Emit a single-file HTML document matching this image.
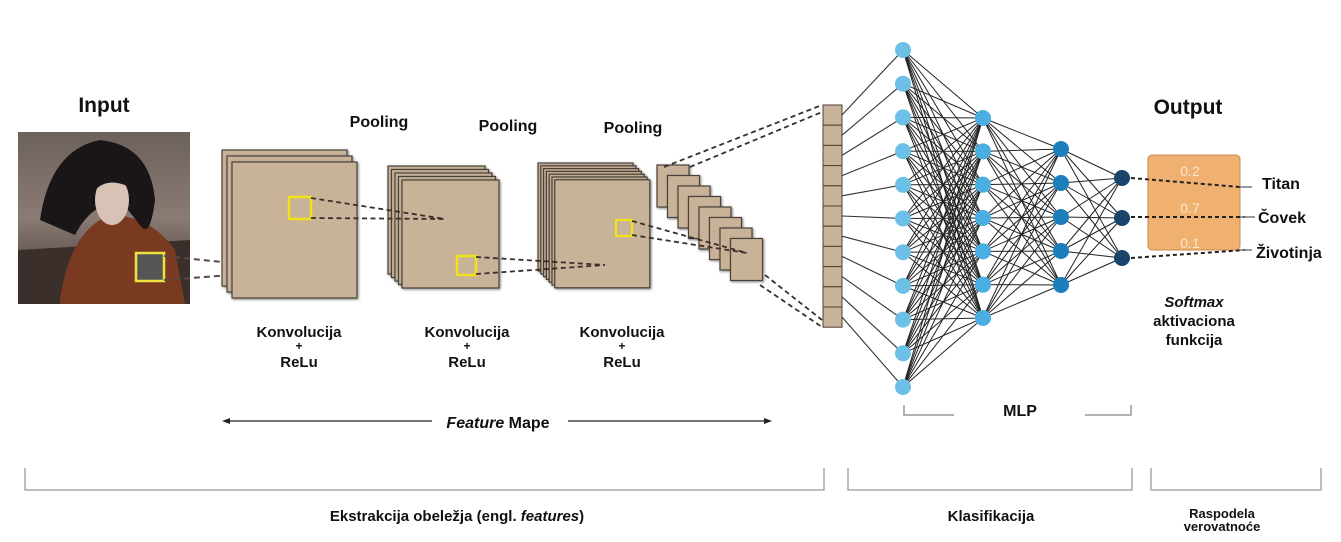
<!DOCTYPE html>
<html><head><meta charset="utf-8"><style>
html,body{margin:0;padding:0;background:#fff;}
svg{display:block;font-family:"Liberation Sans",sans-serif;}
.t{font-weight:bold;fill:#111;}
</style></head><body>
<svg id="s" width="1341" height="542" viewBox="0 0 1341 542" xmlns="http://www.w3.org/2000/svg">
<defs>
<linearGradient id="sky" x1="0" y1="0" x2="0" y2="1">
<stop offset="0" stop-color="#6d615c"/><stop offset="0.5" stop-color="#8a7b74"/><stop offset="1" stop-color="#3a2e2a"/></linearGradient>
<filter id="sh" x="-10%" y="-10%" width="130%" height="130%"><feDropShadow dx="1" dy="1" stdDeviation="1.2" flood-color="#000" flood-opacity="0.5"/></filter>
</defs>
<text x="104" y="112" class="t" font-size="21" text-anchor="middle">Input</text>
<rect x="18" y="132" width="172" height="172" fill="url(#sky)"/>
<path d="M18 250 L190 240 L190 304 L18 304Z" fill="#3a2f2b"/>
<path d="M60 300 Q70 230 110 215 Q150 215 175 250 L185 304 L60 304Z" fill="#7a3a22"/>
<path d="M40 220 Q50 150 100 140 Q150 145 155 200 Q150 240 140 225 L120 200 Q90 205 75 235Z" fill="#1a1517"/>
<ellipse cx="112" cy="200" rx="17" ry="25" fill="#d8c2b6"/>
<path d="M88 165 Q110 150 140 175 L135 190 Q110 175 95 190Z" fill="#1a1517"/>
<rect x="136" y="253" width="28" height="28" fill="#555" stroke="#f0e040" stroke-width="2.5"/>
<line x1="164" y1="256" x2="299" y2="270" stroke="#5a4a44" stroke-width="2" stroke-dasharray="6,4"/>
<line x1="164" y1="280" x2="299" y2="270" stroke="#5a4a44" stroke-width="2" stroke-dasharray="6,4"/>
<g id="maps"></g>
<text x="379" y="127" class="t" font-size="16" text-anchor="middle">Pooling</text>
<text x="508" y="131" class="t" font-size="16" text-anchor="middle">Pooling</text>
<text x="633" y="133" class="t" font-size="16" text-anchor="middle">Pooling</text>
<g class="t" font-size="15" text-anchor="middle">
<text x="299" y="337">Konvolucija</text><text x="299" y="350" font-size="12">+</text><text x="299" y="367">ReLu</text>
<text x="467" y="337">Konvolucija</text><text x="467" y="350" font-size="12">+</text><text x="467" y="367">ReLu</text>
<text x="622" y="337">Konvolucija</text><text x="622" y="350" font-size="12">+</text><text x="622" y="367">ReLu</text>
</g>
<line x1="224" y1="421" x2="432" y2="421" stroke="#222" stroke-width="1.3"/>
<path d="M222 421 l8 -3 v6z" fill="#222"/>
<line x1="568" y1="421" x2="770" y2="421" stroke="#222" stroke-width="1.3"/>
<path d="M772 421 l-8 -3 v6z" fill="#222"/>
<text x="498" y="428" class="t" font-size="16" text-anchor="middle"><tspan font-style="italic">Feature</tspan> Mape</text>
<g id="net"></g>
<text x="1188" y="114" class="t" font-size="21" text-anchor="middle">Output</text>
<rect x="1148" y="155" width="92" height="95" rx="4" fill="#f0b070" stroke="#c98a4e" stroke-width="1"/>
<g fill="#fbe6cc" font-size="14" text-anchor="middle"><text x="1190" y="176">0.2</text><text x="1190" y="213">0.7</text><text x="1190" y="248">0.1</text></g>
<g stroke="#222" stroke-width="2" stroke-dasharray="4,3">
<line x1="1131" y1="178" x2="1240" y2="187"/><line x1="1131" y1="217" x2="1245" y2="217"/><line x1="1131" y1="258" x2="1245" y2="250"/></g>
<g stroke="#777" stroke-width="1.5"><line x1="1240" y1="187" x2="1252" y2="187"/><line x1="1240" y1="217" x2="1255" y2="217"/><line x1="1240" y1="250" x2="1252" y2="250"/></g>
<g class="t" font-size="16"><text x="1262" y="189">Titan</text><text x="1258" y="223">Čovek</text><text x="1256" y="258">Životinja</text></g>
<g class="t" font-size="15" text-anchor="middle"><text x="1194" y="307" font-style="italic">Softmax</text><text x="1194" y="326">aktivaciona</text><text x="1194" y="345">funkcija</text></g>
<path d="M904 405 v10 h50 M1085 415 h46 v-10" stroke="#999" stroke-width="1.5" fill="none"/>
<text x="1020" y="416" class="t" font-size="16" text-anchor="middle">MLP</text>
<g stroke="#999" stroke-width="1.3" fill="none">
<path d="M25 468 v22 h799 v-22"/><path d="M848 468 v22 h284 v-22"/><path d="M1151 468 v22 h170 v-22"/></g>
<text x="457" y="521" class="t" font-size="15" text-anchor="middle">Ekstrakcija obeležja (engl. <tspan font-style="italic">features</tspan>)</text>
<text x="991" y="521" class="t" font-size="15" text-anchor="middle">Klasifikacija</text>
<text x="1222" y="518" class="t" font-size="13" text-anchor="middle">Raspodela</text>
<text x="1222" y="531" class="t" font-size="13" text-anchor="middle">verovatnoće</text>
</svg>
<script>
var NS="http://www.w3.org/2000/svg";
function el(p,n,a){var e=document.createElementNS(NS,n);for(var k in a)e.setAttribute(k,a[k]);p.appendChild(e);return e;}
var m=document.getElementById("maps");
function stack(x0,y0,w,h,n,dx,dy){for(var i=0;i<n;i++){el(m,"rect",{x:x0+i*dx,y:y0+i*dy,width:w,height:h,fill:"#c8b399",stroke:"#4a4038","stroke-width":1.2,filter:"url(#sh)"});}}
stack(222,150,125,136,3,5,6);
stack(388,166,97,108,5,3.5,3.5);
stack(538,163,95,108,7,2.8,2.8);
for(var i=0;i<8;i++){el(m,"rect",{x:657+i*10.5,y:165+i*10.5,width:32,height:42,fill:"#c8b399",stroke:"#4a4038","stroke-width":1.2,filter:"url(#sh)"});}
var ds={stroke:"#3a2e2a","stroke-width":1.8,"stroke-dasharray":"5,3.5"};
function dl(a,b,c,d){var o=Object.assign({x1:a,y1:b,x2:c,y2:d},ds);el(m,"line",o);}
el(m,"rect",{x:289,y:197,width:22,height:22,fill:"none",stroke:"#f2e21a","stroke-width":2.5});
dl(311,198,445,219);dl(311,218,445,219);
el(m,"rect",{x:457,y:256,width:19,height:19,fill:"none",stroke:"#f2e21a","stroke-width":2.5});
dl(476,257,605,265);dl(476,274,605,265);
el(m,"rect",{x:616,y:220,width:16,height:16,fill:"none",stroke:"#f2e21a","stroke-width":2.2});
dl(632,221,747,253);dl(632,235,747,253);
dl(664,167,822,105);dl(690,167,822,112);dl(760,285,822,327);dl(765,275,822,320);
for(var i=0;i<11;i++){el(m,"rect",{x:823,y:105+i*20.2,width:19,height:20.2,fill:"#c8b399",stroke:"#4a4038","stroke-width":1});}
var n=document.getElementById("net");
function ys(a,b,k){var r=[];for(var i=0;i<k;i++)r.push(a+(b-a)*i/(k-1));return r;}
var L=[[903,ys(50,387,11),"#6cc0e6"],[983,ys(118,318,7),"#49aee2"],[1061,ys(149,285,5),"#1c7fbc"],[1122,ys(178,258,3),"#17456c"]];
for(var i=0;i<11;i++){el(n,"line",{x1:842,y1:115+i*20.2,x2:903,y2:L[0][1][i],stroke:"#333","stroke-width":1.1});}
for(var l=0;l<3;l++){L[l][1].forEach(function(a){L[l+1][1].forEach(function(b){el(n,"line",{x1:L[l][0],y1:a,x2:L[l+1][0],y2:b,stroke:"#222","stroke-width":1});});});}
L.forEach(function(c){c[1].forEach(function(y){el(n,"circle",{cx:c[0],cy:y,r:8,fill:c[2]});});});
</script>
</body></html>
